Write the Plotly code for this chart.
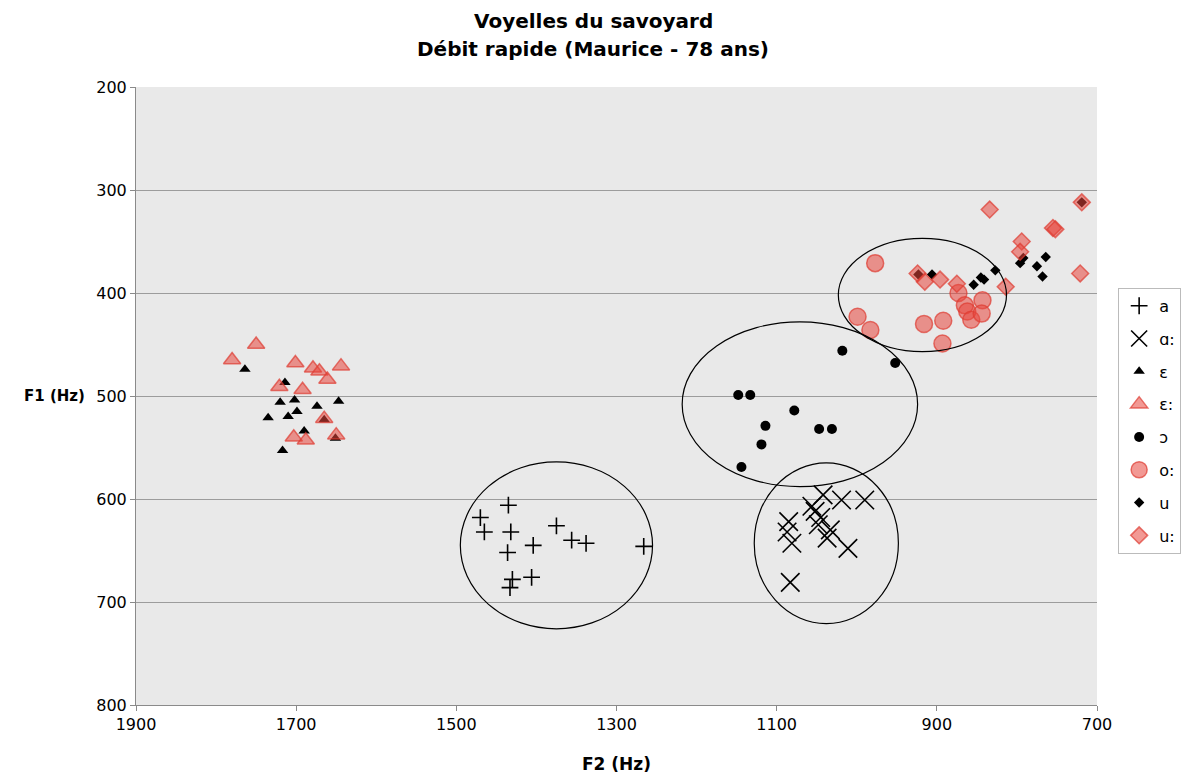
import plotly.graph_objects as go

# ---- data (F2, F1 in Hz) ----
a_f2 = [1435, 1470, 1465, 1432, 1436, 1404, 1375, 1356, 1338, 1266, 1430, 1406, 1433]
a_f1 = [606, 618, 632, 632, 652, 645, 626, 640, 643, 646, 678, 676, 686]

aa_f2 = [1085, 1087, 1081, 1083, 1052, 1056, 1048, 1042, 1019, 990, 1037, 1011, 1033, 1045]
aa_f1 = [622, 632, 643, 681, 612, 607, 625, 596, 601, 601, 638, 648, 630, 618]

e_f2 = [1764, 1714, 1720, 1702, 1674, 1647, 1735, 1710, 1699, 1665, 1690, 1717, 1651]
e_f1 = [474, 487, 506, 504, 510, 505, 521, 520, 515, 523, 534, 553, 541]

ee_f2 = [1780, 1750, 1701, 1679, 1671, 1644, 1721, 1692, 1661, 1665, 1650, 1703, 1688]
ee_f1 = [465, 450, 468, 473, 476, 471, 491, 494, 484, 522, 538, 540, 543]

o_f2 = [1018, 952, 1148, 1133, 1078, 1114, 1047, 1031, 1119, 1144]
o_f1 = [456, 468, 499, 499, 514, 529, 532, 532, 547, 569]

oo_f2 = [977, 999, 983, 916, 892, 893, 873, 865, 862, 857, 843, 844]
oo_f1 = [371, 423, 436, 430, 427, 449, 400, 412, 418, 426, 407, 420]

u_f2 = [923, 906, 854, 845, 841, 827, 796, 792, 775, 764, 768, 719]
u_f1 = [382, 382, 392, 385, 387, 378, 371, 366, 374, 365, 384, 312]

uu_f2 = [924, 915, 896, 875, 834, 794, 796, 755, 752, 719, 721, 814]
uu_f1 = [381, 389, 387, 391, 319, 350, 360, 337, 338, 312, 381, 394]

# ellipses: centre F2, centre F1, half-width (Hz), half-height (Hz)
ell_cx = [1375, 1038, 1071, 918]
ell_cy = [645, 643, 508, 402]
ell_rx = [120, 90, 147, 105]
ell_ry = [81, 78, 80, 55]

x_ticks = [1900, 1700, 1500, 1300, 1100, 900, 700]
y_ticks = [200, 300, 400, 500, 600, 700, 800]

title_lines = ["Voyelles du savoyard", "Débit rapide (Maurice - 78 ans)"]

RED_FILL = "rgba(232,70,60,0.55)"
RED_LINE = "rgba(222,60,50,0.7)"

fig = go.Figure()

def add(name, xs, ys, symbol, size, color, line_color, line_width, group):
    fig.add_trace(go.Scatter(
        x=xs, y=ys, mode="markers", name=name, legendgroup=group,
        marker=dict(symbol=symbol, size=size, color=color,
                    line=dict(color=line_color, width=line_width)),
    ))

add("a", a_f2, a_f1, "cross-thin-open", 12, "black", "black", 1.6, "g1")
add("ɑ:", aa_f2, aa_f1, "x-thin-open", 18.5, "black", "black", 1.6, "g2")
add("ɛ", e_f2, e_f1, "triangle-up", 10, "black", "black", 0, "g3")
add("ɛ:", ee_f2, ee_f1, "triangle-up", 15, RED_FILL, RED_LINE, 1.5, "g4")
add("ɔ", o_f2, o_f1, "circle", 10, "black", "black", 0, "g5")
add("o:", oo_f2, oo_f1, "circle", 17, RED_FILL, RED_LINE, 1.5, "g6")
add("u", u_f2, u_f1, "diamond", 8, "black", "black", 0, "g7")
add("u:", uu_f2, uu_f1, "diamond", 13, RED_FILL, RED_LINE, 1.5, "g8")

for cx, cy, rx, ry in zip(ell_cx, ell_cy, ell_rx, ell_ry):
    fig.add_shape(type="circle", xref="x", yref="y",
                  x0=cx - rx, x1=cx + rx, y0=cy - ry, y1=cy + ry,
                  line=dict(color="black", width=1.2), fillcolor="rgba(0,0,0,0)")

FONT = "DejaVu Sans"

# title lines as annotations (pixel-tuned positions)
for txt, yp in zip(title_lines, [1.1068, 1.0615]):
    fig.add_annotation(text="<b>%s</b>" % txt, xref="paper", yref="paper",
                       x=0.476, y=yp, xanchor="center", yanchor="middle",
                       showarrow=False, font=dict(family=FONT, size=20, color="black"))

# horizontal y-axis title
fig.add_annotation(text="<b>F1 (Hz)</b>", xref="paper", yref="paper",
                   x=-0.0843, y=0.5, xanchor="center", yanchor="middle",
                   showarrow=False, font=dict(family=FONT, size=15, color="black"))

fig.update_layout(
    width=1181, height=768,
    margin=dict(l=128, r=92, t=79, b=71, autoexpand=False),
    paper_bgcolor="white",
    plot_bgcolor="#E9E9E9",
    font=dict(family=FONT, size=16, color="black"),
    xaxis=dict(
        range=[1900, 700], tickvals=x_ticks,
        showgrid=False, zeroline=False,
        showline=True, linecolor="#8a8a8a", linewidth=1,
        ticks="outside", ticklen=5, tickcolor="#8a8a8a",
        tickfont=dict(family=FONT, size=16),
        title=dict(text="<b>F2 (Hz)</b>", font=dict(family=FONT, size=17), standoff=24),
    ),
    yaxis=dict(
        range=[800, 200], tickvals=y_ticks,
        showgrid=True, gridcolor="#9c9c9c", gridwidth=1,
        zeroline=False,
        showline=True, linecolor="#8a8a8a", linewidth=1,
        ticks="outside", ticklen=5, tickcolor="#8a8a8a",
        tickfont=dict(family=FONT, size=16),
    ),
    showlegend=True,
    legend=dict(
        x=1.022, xanchor="left", y=0.675, yanchor="top",
        bgcolor="white", bordercolor="#bbbbbb", borderwidth=1,
        font=dict(family=FONT, size=16),
        itemwidth=30, tracegroupgap=9,
    ),
)

fig.write_html("out.html")
